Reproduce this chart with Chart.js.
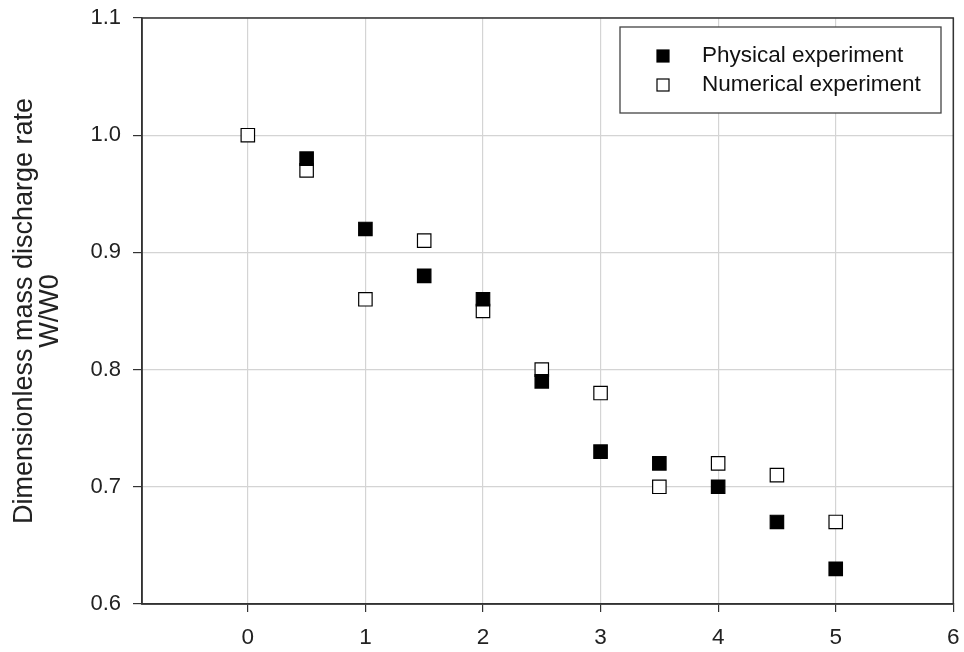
<!DOCTYPE html>
<html>
<head>
<meta charset="utf-8">
<script src="https://cdn.jsdelivr.net/npm/chart.js@4/dist/chart.umd.min.js"></script>
<style>
html,body{margin:0;padding:0;background:#fff;}
#wrap{width:964px;height:652px;}
</style>
</head>
<body>
<div id="wrap"><canvas id="c" width="964" height="652"></canvas></div>
<script>
const physX = [0.5, 1, 1.5, 2, 2.5, 3, 3.5, 4, 4.5, 5];
const physY = [0.98, 0.92, 0.88, 0.86, 0.79, 0.73, 0.72, 0.70, 0.67, 0.63];
const numX = [0, 0.5, 1, 1.5, 2, 2.5, 3, 3.5, 4, 4.5, 5];
const numY = [1.00, 0.97, 0.86, 0.91, 0.85, 0.80, 0.78, 0.70, 0.72, 0.71, 0.67];
const xTicks = [0, 1, 2, 3, 4, 5, 6];
const yTicks = [0.6, 0.7, 0.8, 0.9, 1.0, 1.1];
const seriesNames = ['Physical experiment', 'Numerical experiment'];
const yTitle = ['Dimensionless mass discharge rate', 'W/W0'];

const FONT = '"Liberation Sans", Arial, sans-serif';

const framePlugin = {
  id: 'frame',
  afterDraw(chart) {
    const {ctx, chartArea: a} = chart;
    ctx.save();
    ctx.strokeStyle = '#333';
    ctx.lineWidth = 1.5;
    ctx.strokeRect(a.left, a.top, a.right - a.left, a.bottom - a.top);
    // legend box
    const lx = 620, ly = 27, lw = 321, lh = 86;
    ctx.fillStyle = '#fff';
    ctx.fillRect(lx, ly, lw, lh);
    ctx.strokeStyle = '#444';
    ctx.lineWidth = 1.3;
    ctx.strokeRect(lx, ly, lw, lh);
    ctx.font = '22.5px ' + FONT;
    ctx.textBaseline = 'middle';
    chart.data.datasets.forEach((ds, i) => {
      const cy = 56 + i * 29;
      const cx = 663;
      ctx.fillStyle = ds.backgroundColor;
      ctx.strokeStyle = ds.borderColor;
      ctx.lineWidth = 1.2;
      ctx.fillRect(cx - 6, cy - 6, 12, 12);
      ctx.strokeRect(cx - 6, cy - 6, 12, 12);
      ctx.fillStyle = '#111';
      ctx.fillText(ds.label, 702, cy);
    });
    ctx.restore();
  }
};

new Chart(document.getElementById('c'), {
  type: 'scatter',
  data: {
    datasets: [
      {
        label: seriesNames[0],
        data: physX.map((x, i) => ({x, y: physY[i]})),
        pointStyle: 'rect',
        pointRadius: 9.5,
        pointHoverRadius: 9.5,
        backgroundColor: '#000',
        borderColor: '#000',
        borderWidth: 1.2
      },
      {
        label: seriesNames[1],
        data: numX.map((x, i) => ({x, y: numY[i]})),
        pointStyle: 'rect',
        pointRadius: 9.5,
        pointHoverRadius: 9.5,
        backgroundColor: '#fff',
        borderColor: '#000',
        borderWidth: 1.2
      }
    ]
  },
  options: {
    responsive: false,
    animation: false,
    layout: {padding: {top: 18, right: 10, left: 0, bottom: 0}},
    plugins: {legend: {display: false}, tooltip: {enabled: false}},
    scales: {
      x: {
        type: 'linear',
        min: -0.9,
        max: 6,
        afterBuildTicks: (s) => { s.ticks = xTicks.map(v => ({value: v})); },
        afterFit: (s) => { s.height = 48; s.paddingLeft = 0; s.paddingRight = 0; },
        grid: {color: '#d4d4d4', lineWidth: 1.2, tickColor: '#333', tickLength: 8, drawTicks: true},
        border: {display: true, color: '#333', width: 1.5},
        ticks: {
          color: '#222',
          font: {family: FONT, size: 22.5},
          padding: 12,
          maxRotation: 0,
          callback: (v) => String(v)
        }
      },
      y: {
        type: 'linear',
        min: 0.6,
        max: 1.1,
        afterBuildTicks: (s) => { s.ticks = yTicks.map(v => ({value: v})); },
        afterFit: (s) => { s.width = 142; s.paddingTop = 0; s.paddingBottom = 0; },
        grid: {color: '#d4d4d4', lineWidth: 1.2, tickColor: '#333', tickLength: 9},
        border: {display: true, color: '#333', width: 1.5},
        title: {
          display: true,
          text: yTitle,
          color: '#222',
          font: {family: FONT, size: 27, lineHeight: 0.98},
          padding: {top: 11, bottom: 0}
        },
        ticks: {
          color: '#222',
          font: {family: FONT, size: 22},
          padding: 12,
          callback: (v) => Number(v).toFixed(1)
        }
      }
    }
  },
  plugins: [framePlugin]
});
</script>
</body>
</html>
